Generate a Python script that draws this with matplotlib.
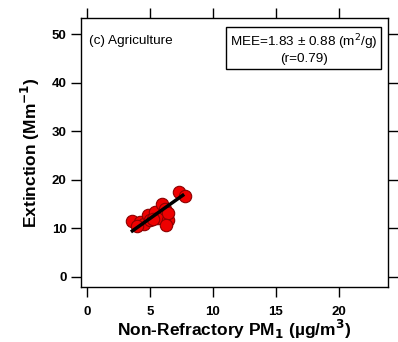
import matplotlib
matplotlib.use("Agg")
import matplotlib.pyplot as plt
import numpy as np

plt.rcParams['font.family'] = ['Liberation Sans', 'DejaVu Sans']

# Data
pm1 = [3.55, 4.2, 4.5, 4.87, 5.0, 5.4, 5.6, 5.93, 6.2, 6.4, 6.45, 6.3, 7.3, 7.78, 4.0, 5.2]
ext = [11.6, 11.4, 11.0, 12.8, 11.8, 13.4, 12.2, 15.0, 14.0, 11.7, 13.2, 10.8, 17.5, 16.7, 10.4, 12.0]
mee_slope = 1.83
fit_intercept = 2.9
fit_x = [3.6, 7.6]
panel_label = "(c) Agriculture"
xticks = [0, 5, 10, 15, 20]
yticks = [0, 10, 20, 30, 40, 50]

fig = plt.figure(figsize=(3.98, 3.42), dpi=100)
ax = fig.add_axes([81/398, 1-287/342, (388-81)/398, (287-18)/342])

ax.scatter(pm1, ext, s=80, facecolor='#ee0000', edgecolor='#8b0000', linewidth=0.8, zorder=3)
fx = np.array(fit_x)
ax.plot(fx, mee_slope*fx + fit_intercept, color='black', lw=2.5, zorder=4)

ax.set_xlim(-0.48, 23.9)
ax.set_ylim(-2.06, 53.3)
ax.set_xticks(xticks)
ax.set_yticks(yticks)
ax.set_xticklabels([str(v) for v in xticks], fontweight='bold', fontsize=9.5)
ax.set_yticklabels([str(v) for v in yticks], fontweight='bold', fontsize=9.5)
ax.tick_params(direction='out', length=7.5, width=1, top=True, right=True, labeltop=False, labelright=False, pad=3)
ax.tick_params(axis='x', pad=6)
for s in ax.spines.values():
    s.set_linewidth(1)

ax.set_xlabel(r"Non-Refractory PM$_\mathbf{1}$ (µg/m$^\mathbf{3}$)", fontweight='bold', fontsize=12.5, labelpad=0)
ax.set_ylabel(r"Extinction (Mm$^\mathbf{-1}$)", fontweight='bold', fontsize=12.5, labelpad=7)

ax.text(0.027, 0.915, panel_label, transform=ax.transAxes, fontsize=9.7, va='center', ha='left')
ax.text(0.725, 0.885, "MEE=1.83 ± 0.88 (m$^2$/g)\n(r=0.79)", transform=ax.transAxes,
        fontsize=9.7, ha='center', va='center', multialignment='center', linespacing=1.1,
        bbox=dict(boxstyle='square,pad=0.25', facecolor='white', edgecolor='black', lw=1))

fig.savefig("out.png", dpi=100)
